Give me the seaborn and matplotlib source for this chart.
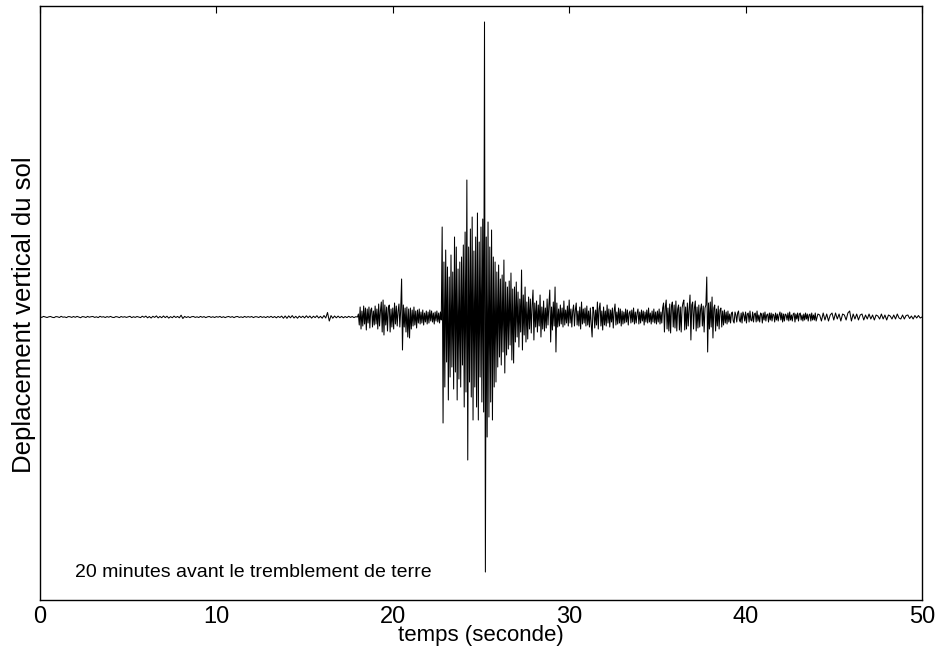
import numpy as np
import pandas as pd
import seaborn as sns
import matplotlib.pyplot as plt

# traces lues sur le sismogramme (deplacement, unites arbitraires)
# une ligne de valeurs = 1 s (pas 0.1) ou 0.5 s (pas 0.05)
calme_debut = [0.3, -0.4, 0.6, 0.1, -0.5, 0.2, 0.5, -0.3, -0.6, 0.4,
               0.2, -0.5, 0.7, -0.2, 0.1, -0.6, 0.4, 0.3, -0.4, 0.5,
               -0.3, 0.6, -0.1, -0.7, 0.4, 0.2, -0.5, 0.6, -0.2, 0.3,
               0.5, -0.4, 0.2, -0.6, 0.7, -0.1, 0.3, -0.5, 0.4, -0.2,
               0.6, -0.3, -0.5, 0.4, 0.1, -0.6, 0.5, -0.2, 0.3, -0.4,
               0.2, 0.7, -0.6, 0.3, -0.4, 0.5, -0.1, -0.6, 0.8, -0.3,
               0.9, -0.8, 0.5, -1.0, 0.7, -0.4, 1.1, -0.9, 0.6, -0.7,
               1.0, -0.6, 0.8, -1.1, 0.4, -0.7, 0.9, -0.5, 0.6, -0.8,
               1.8, -1.5, 0.6, -0.5, 0.4, -0.6, 0.3, 0.5, -0.4, 0.2,
               -0.5, 0.6, -0.3, 0.4, -0.6, 0.2, 0.5, -0.4, 0.3, -0.5,
               0.4, -0.2, 0.6, -0.5, 0.3, -0.6, 0.2, 0.5, -0.3, 0.4,
               -0.6, 0.3, 0.5, -0.4, 0.2, -0.5, 0.6, -0.3, 0.4, -0.2,
               0.5, -0.6, 0.3, 0.2, -0.5, 0.6, -0.4, 0.3, -0.6, 0.5,
               -0.4, 0.7, -0.6, 0.5, -0.8, 0.6, -0.5, 0.9, -1.2, 1.0,
               -1.3, 1.1, -0.8, 1.4, -1.0, 0.7, -1.2, 0.9, -0.6, 0.8,
               -0.9, 1.2, -0.7, 1.0, -1.1, 0.8, -0.6, 1.3, -1.0, 0.7,
               -1.2, 1.5, -1.0, 4.5, -4.0, 1.4, -1.2, 1.0, -0.8, 0.9,
               -0.7, 0.6, -0.8, 0.5, -0.6, 0.7, -0.4, 0.5, -0.6, 0.3]

ondes_p = [0, 3, -8, 10, -12, 6, -9, 11, -7, 9,
           -13, 8, -6, 10, -11, 7, 9, -10, 6, -8,
           11, -7, 8, -12, 13, -9, 6, 15, -15, 17,
           -18, 12, -8, 10, -14, 9, 12, -15, 8, -10,
           9, -12, 14, -7, 11, -9, 6, 13, -10, 8,
           38, -33, 12, -10, 9, -15, 10, -20, 8, -21,
           9, -12, 7, -9, 10, -8, 6, -11, 7, -6,
           8, -7, 5, -6, 7, -8, 4, -5, 6, -7,
           5, -6, 7, -4, 6, -5, 4, -7, 5, -4,
           6, -5, 4, -6, 5, -3]

ondes_s = [90, -106, 55, -70, 67, -45, 50, -83, 40, -60,
           62, -50, 45, -72, 80, -55, 70, -83, 48, -62,
           55, -70, 60, -48, 72, -90, 85, -75, 137, -143,
           70, -65, 88, -80, 100, -103, 66, -70, 80, -90,
           104, -103, 75, -60, 90, -85, 98, -95, 295, -255,
           80, -120, 95, -100, 70, -85, 87, -103, 60, -70,
           55, -65, 45, -50, 52, -40, 38, -48, 42, -35,
           57, -56, 35, -38, 30, -32, 36, -28, 44, -43,
           28, -46, 30, -25]

coda = [35, -20, 25, -30, 18, -15, 47, -33, 22, -18,
        30, -25, 15, -22, 20, -12, 18, -16, 12, 27,
        -23, 14, -10, 16, -15, 12, -9, 22, -20, 10,
        -12, 16, -14, 9, -11, 18, -8, 12, 27, -25,
        10, -13, 15, -9, 30, -35, 14, -10, 8, -9,
        12, -7, 9, -10, 16, -8, 7, -6, 11, -9,
        17, -6, 8, -10, 6, 12, -9, 7, 14, -8,
        6, -9, 10, -12, 15, -7, 8, -6, 9, -9,
        11, -8, 6, -10, 9, -7, -20, 10, 5, -11,
        7, -8, 15, -12, 8, 14, -9, 6, -13, 10,
        -8, 6, -9, 12, -6, 8, -10, 7, -5, 9,
        -11, 6, 13, -8, 5, -7, 9, -6, 8, -9,
        6, -7, 5, -6, 8, -5, 7, -8, 4, 6,
        -6, 7, -5, 9, -7, 5, -6, 4, 8, -7,
        5, -6, 7, -4, 6, -8, 5, -5, 7, -6,
        9, -5, 4, -7, 6, -5, 8, -6, 5, -7]

replique = [6, -5, 8, -7, 5, -6, 9, 14, -15, 10,
            17, -12, 9, -14, 13, -16, 11, 15, -10, 12,
            -11, 16, -14, 8, 12, -13, 10, -15, 9, 14,
            17, -13, 10, -12, 14, -9, 8, 22, -23, 12,
            15, -12, 9, 16, -14, 10, -11, 12, -10, 8,
            13, -9, 11, -15, 9, 12, 40, -35, 14, -12,
            15, -10, 20, -21, 9, 12, -14, 8, -9, 11,
            -12, 7, 9, -10, 6, -8, 7, -6, 5, -7]

calme_fin_a = [6, -5, 3, -6, 4, 5, -4, -6, 5, 2,
               -5, 4, 6, -3, -5, 4, -6, 5, 2, -4,
               5, -6, 3, 4, -5, 6, -3, -4, 5, -5,
               3, 4, -5, 6, -4, 2, -5, 4, 3, -6,
               4, -3, 5, -4, 2, 3, -5, 4, -3, 4,
               -4, 3, 2, -5, 4, -3, 3, -4, 2, 5,
               -3, 4, -5, 3, -4, 3, 2, -3, 4, -4,
               5, -3, 2, -4, 3, 4, -5, 3, -2, 4,
               -4, 3, 4, -3, 2, -4, 3, -3, 4, -2,
               3, -4, 2, 3, -4, 4, -3, 2, -3, 4]

calme_fin_b = [-4, 3, 2, -4, 4, -3, 3, -4, 2, 4,
               -3, 4, -2, 3, -4, 3, 2, -3, 4, 6,
               -4, 3, -2, 3, -3, 2, 3, -3, 2, -2,
               3, -2, 2, -3, 2, 1, -2, 3, -2, 2,
               -3, 2, 1, -2, 2, -2, 3, -1, -2, 2,
               -2, 1.5, 2, -1.5, 1, -2, 1.5, -1, 1.5, -1,
               0]

# (debut en s, pas en s, valeurs)
segments = [(0.0, 0.1, calme_debut), (18.0, 0.05, ondes_p), (22.8, 0.05, ondes_s),
            (27.0, 0.05, coda), (35.0, 0.05, replique), (39.0, 0.05, calme_fin_a),
            (44.0, 0.1, calme_fin_b)]

temps = np.concatenate([t0 + dt * np.arange(len(v)) for t0, dt, v in segments])
depl = np.concatenate([np.array(v, dtype=float) for _, _, v in segments])
df = pd.DataFrame({'temps': temps, 'depl': depl})

sns.set_style('white')
plt.rcParams['font.family'] = ['Liberation Sans Narrow', 'Liberation Sans', 'DejaVu Sans']

fig = plt.figure(figsize=(9.43, 6.51), dpi=100)
ax = fig.add_axes([0.0424, 0.0783, 0.9353, 0.9125])

sns.lineplot(data=df, x='temps', y='depl', color='black', linewidth=0.75,
             estimator=None, sort=False, ax=ax)

ax.set_xlim(0, 50)
ax.set_ylim(-283, 311)
ax.set_xticks([0, 10, 20, 30, 40, 50])
ax.set_yticks([])
ax.tick_params(axis='x', direction='in', length=5, width=0.8, top=True,
               labelsize=17, pad=4, colors='black')
for s in ax.spines.values():
    s.set_visible(True)
    s.set_color('black')
    s.set_linewidth(1.0)

ax.set_xlabel('temps (seconde)', fontsize=16, labelpad=-2, color='black')
ax.set_ylabel('Deplacement vertical du sol', fontsize=18.5, color='black')
ax.yaxis.set_label_coords(-0.004, 0.481)
ax.text(2.0, -255, '20 minutes avant le tremblement de terre', fontsize=14,
        ha='left', va='center', color='black')

fig.savefig('out.png', dpi=100)
